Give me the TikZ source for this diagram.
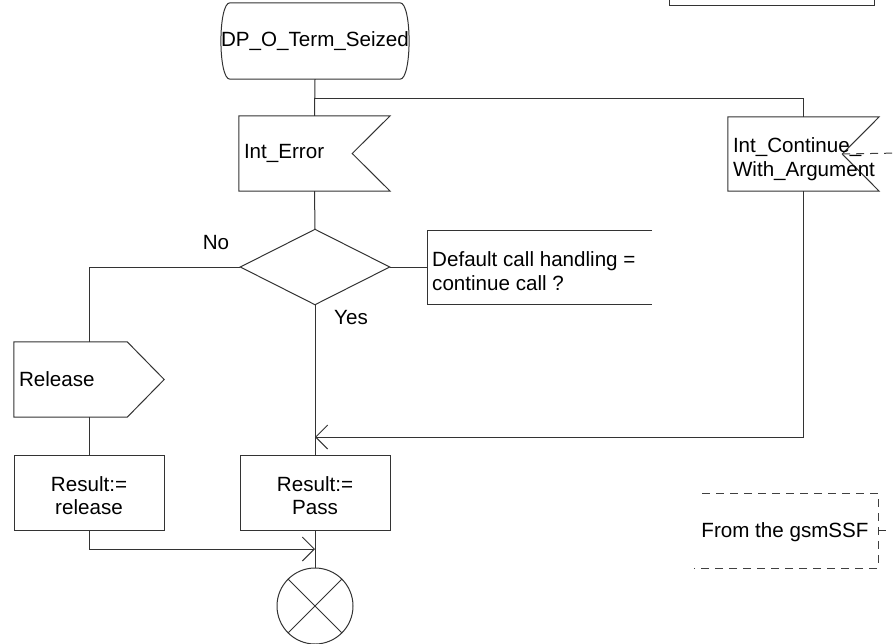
\documentclass[tikz,border=0pt]{standalone}
\usepackage{fontspec}
\setmainfont{Liberation Sans}
\usetikzlibrary{arrows.meta,calc}
\begin{document}
\begin{tikzpicture}[x=1pt,y=-1pt,
  every node/.style={font=\fontsize{20.6}{23.5}\selectfont, inner sep=0pt},
  ln/.style={draw=black!80, line width=1pt},
  dsh/.style={draw=black!75, line width=1pt, dash pattern=on 8pt off 6pt},
  arr/.style={ln, -{Straight Barb[length=12pt,width=24pt,line width=1pt]}},
  flagbox/.style={minimum width=151pt, minimum height=75pt, text width=141pt, align=left, inner xsep=5pt},
  taskbox/.style={ln, minimum width=150pt, minimum height=75pt, align=center}]
\clip (0,0) rectangle (893,643);
% top-right partially visible box
\draw[ln] (669,-3) -- (669,5) -- (874,5) -- (874,-3);
% start symbol
\node[minimum width=150pt, minimum height=76pt] (start) at (315,41) {\raisebox{-2pt}{DP\_O\_Term\_Seized}};
\draw[ln] ($(start.north west)+(9,0)$) -- ($(start.north east)+(-9,0)$)
  .. controls ($(start.north east)+(3,0)$) and ($(start.south east)+(3,0)$) .. ($(start.south east)+(-9,0)$)
  -- ($(start.south west)+(9,0)$)
  .. controls ($(start.south west)+(-3,0)$) and ($(start.north west)+(-3,0)$) .. cycle;
% input Int_Error
\node[flagbox] (err) at (314.5,153.5) {\raisebox{-2pt}{Int\_Error}};
\draw[ln] (err.north west) -- (err.north east) -- ($(err.east)+(-38,0)$) -- (err.south east) -- (err.south west) -- cycle;
% input Int_Continue_With_Argument
\node[minimum width=151pt, minimum height=74pt] (cont) at (803.5,154) {};
\draw[ln] (cont.north west) -- (cont.north east) -- ($(cont.east)+(-37,0)$) -- (cont.south east) -- (cont.south west) -- cycle;
\node[anchor=west, align=left] (contt) at ($(cont.west)+(5,5)$) {Int\_Continue\_\\With\_Argument};
\coordinate (contout) at (900,153);
\draw[dsh] ($(cont.east)+(-37,0)$) -- (contout);
% decision
\node[minimum width=149pt, minimum height=75pt] (dia) at (315,267) {};
\draw[ln] (dia.north) -- (dia.east) -- (dia.south) -- (dia.west) -- cycle;
\node (no) at (216,243) {No};
\node (yes) at (351,318) {Yes};
% comment
\node[anchor=west, align=left] (cmt) at (432,271) {Default call handling =\\continue call ?};
\coordinate (cb) at (427,267);
\draw[ln] (652,230) -- (427,230) -- (427,304) -- (652,304);
\draw[ln] (dia.east) -- (cb);
% output Release
\node[minimum width=150pt, minimum height=75pt, text width=140pt, align=left, inner xsep=5pt] (rel) at (89,379.5) {Release};
\draw[ln] (rel.north west) -- ($(rel.north east)+(-37,0)$) -- (rel.east) -- ($(rel.south east)+(-37,0)$) -- (rel.south west) -- cycle;
% tasks
\node[taskbox, draw] (res1) at (89,492.5) {};
\node[align=center] (res1t) at ($(res1.center)+(0,3)$) {Result:=\\release};
\node[taskbox, draw] (pass) at (315,492.5) {};
\node[align=center] (passt) at ($(pass.center)+(0,3)$) {Result:=\\Pass};
% end
\node[ln, draw, circle, minimum size=76pt] (end) at (315,606) {};
\draw[ln] (end.north west) -- (end.south east);
\draw[ln] (end.north east) -- (end.south west);
% from the gsmSSF
\node (gsm) at (785,532) {From the gsmSSF};
\coordinate (gtick) at (886,530);
\draw[dsh] (702,493) -- (878,493) -- (878,568) -- (694,568);
\draw[ln] (878,530) -- (gtick);
% connectors
\coordinate (j1) at (315,98);
\draw[ln] (start.south) -- (err.north);
\draw[ln] (j1) -| (cont.north);
\draw[ln] (err.south) -- (dia.north);
\draw[ln] (dia.west) -| (rel.north);
\draw[ln] (dia.south) -- (pass.north);
\draw[ln] (rel.south) -- (res1.north);
\coordinate (ap) at (315,437);
\draw[arr] (cont.south) |- (ap);
\coordinate (mp) at (315,549);
\draw[arr] (res1.south) |- (mp);
\draw[ln] (pass.south) -- (end.north);
\end{tikzpicture}
\end{document}
